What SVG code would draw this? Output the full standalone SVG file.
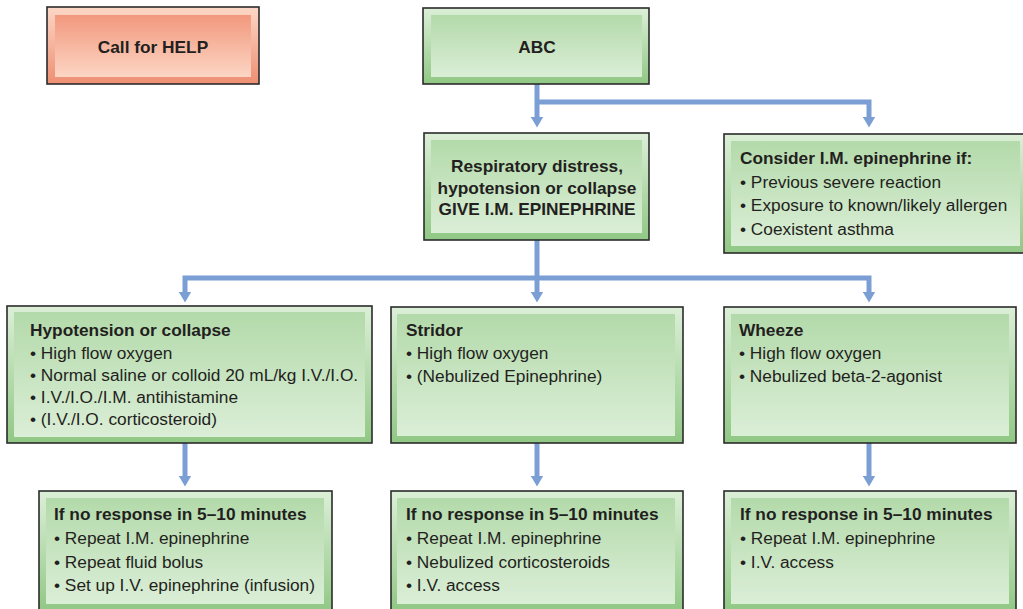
<svg xmlns="http://www.w3.org/2000/svg" width="1023" height="609" viewBox="0 0 1023 609">
<style>
.t{font-family:"Liberation Sans",Arial,sans-serif;font-size:17.3px;fill:#231f20}
.b{font-weight:bold}
.m{text-anchor:middle}
.gbox{fill:url(#gOut);stroke:#2b2b2b;stroke-width:1.6}
.gin{fill:url(#gIn)}
.rbox{fill:url(#rOut);stroke:#2b2b2b;stroke-width:1.6}
.rin{fill:url(#rIn)}
.c{fill:none;stroke:#7b9fd4;stroke-width:5;stroke-linejoin:miter}
.a{marker-end:url(#arr)}
</style>
<defs>
<linearGradient id="gOut" x1="0" y1="0" x2="0" y2="1"><stop offset="0" stop-color="#dcefd8"/><stop offset="1" stop-color="#90c884"/></linearGradient>
<linearGradient id="gIn" x1="0" y1="0" x2="0" y2="1"><stop offset="0" stop-color="#b3daaa"/><stop offset="1" stop-color="#dbeed7"/></linearGradient>
<linearGradient id="rOut" x1="0" y1="0" x2="0" y2="1"><stop offset="0" stop-color="#fcd7c6"/><stop offset="1" stop-color="#ee8f73"/></linearGradient>
<linearGradient id="rIn" x1="0" y1="0" x2="0" y2="1"><stop offset="0" stop-color="#f2987d"/><stop offset="1" stop-color="#fcd6c4"/></linearGradient>
<marker id="arr" markerUnits="userSpaceOnUse" markerWidth="11" markerHeight="13" viewBox="0 0 11 13" refX="0.5" refY="6.5" orient="auto"><path d="M0,0 L11,6.5 L0,13 z" fill="#7b9fd4"/></marker>
</defs>

<g id="connectors">
<path class="c a" d="M537,84 V117"/>
<path class="c a" d="M537,102 H869 V117"/>
<path class="c a" d="M537,240 V292"/>
<path class="c a" d="M537,278 H185 V292"/>
<path class="c a" d="M537,278 H869 V292"/>
<path class="c a" d="M185,443 V476"/>
<path class="c a" d="M537,443 V476"/>
<path class="c a" d="M869,443 V476"/>
</g>

<g id="help">
<rect class="rbox" x="47" y="7" width="212" height="77"/>
<rect class="rin" x="55" y="15" width="196" height="62"/>
<text class="t b m" x="153" y="52.5">Call for HELP</text>
</g>

<g id="abc">
<rect class="gbox" x="423" y="8" width="226" height="76"/>
<rect class="gin" x="431" y="15" width="211" height="62"/>
<text class="t b m" x="537" y="52.5">ABC</text>
</g>

<g id="respiratory">
<rect class="gbox" x="424" y="133" width="225" height="107"/>
<rect class="gin" x="431" y="140" width="211" height="93"/>
<text class="t b m" x="537" y="172">Respiratory distress,</text>
<text class="t b m" x="537" y="193.5">hypotension or collapse</text>
<text class="t b m" x="537" y="215">GIVE I.M. EPINEPHRINE</text>
</g>

<g id="consider">
<rect class="gbox" x="724" y="134" width="300" height="119"/>
<rect class="gin" x="731" y="141" width="289" height="105"/>
<text class="t b" x="740" y="164">Consider I.M. epinephrine if:</text>
<text class="t" x="740" y="187.5">• Previous severe reaction</text>
<text class="t" x="740" y="211">• Exposure to known/likely allergen</text>
<text class="t" x="740" y="235">• Coexistent asthma</text>
</g>

<g id="hypotension">
<rect class="gbox" x="7" y="306" width="365" height="137"/>
<rect class="gin" x="14" y="312" width="351" height="125"/>
<text class="t b" x="30" y="336">Hypotension or collapse</text>
<text class="t" x="30" y="359">• High flow oxygen</text>
<text class="t" x="30" y="381">• Normal saline or colloid 20 mL/kg I.V./I.O.</text>
<text class="t" x="30" y="403">• I.V./I.O./I.M. antihistamine</text>
<text class="t" x="30" y="425">• (I.V./I.O. corticosteroid)</text>
</g>

<g id="stridor">
<rect class="gbox" x="391" y="307" width="292" height="136"/>
<rect class="gin" x="397" y="314" width="278" height="122"/>
<text class="t b" x="406" y="336">Stridor</text>
<text class="t" x="406" y="359">• High flow oxygen</text>
<text class="t" x="406" y="382">• (Nebulized Epinephrine)</text>
</g>

<g id="wheeze">
<rect class="gbox" x="724" y="307" width="292" height="136"/>
<rect class="gin" x="731" y="314" width="278" height="122"/>
<text class="t b" x="739" y="336">Wheeze</text>
<text class="t" x="739" y="359">• High flow oxygen</text>
<text class="t" x="739" y="382">• Nebulized beta-2-agonist</text>
</g>

<g id="noresponse1">
<rect class="gbox" x="39" y="491" width="293" height="121"/>
<rect class="gin" x="46" y="498" width="278" height="106"/>
<text class="t b" x="54" y="520">If no response in 5–10 minutes</text>
<text class="t" x="54" y="544">• Repeat I.M. epinephrine</text>
<text class="t" x="54" y="567.5">• Repeat fluid bolus</text>
<text class="t" x="54" y="591">• Set up I.V. epinephrine (infusion)</text>
</g>

<g id="noresponse2">
<rect class="gbox" x="391" y="491" width="292" height="121"/>
<rect class="gin" x="397" y="498" width="278" height="106"/>
<text class="t b" x="406" y="520">If no response in 5–10 minutes</text>
<text class="t" x="406" y="544">• Repeat I.M. epinephrine</text>
<text class="t" x="406" y="567.5">• Nebulized corticosteroids</text>
<text class="t" x="406" y="591">• I.V. access</text>
</g>

<g id="noresponse3">
<rect class="gbox" x="724" y="491" width="292" height="121"/>
<rect class="gin" x="731" y="498" width="278" height="106"/>
<text class="t b" x="740" y="520">If no response in 5–10 minutes</text>
<text class="t" x="740" y="544">• Repeat I.M. epinephrine</text>
<text class="t" x="740" y="567.5">• I.V. access</text>
</g>
</svg>
